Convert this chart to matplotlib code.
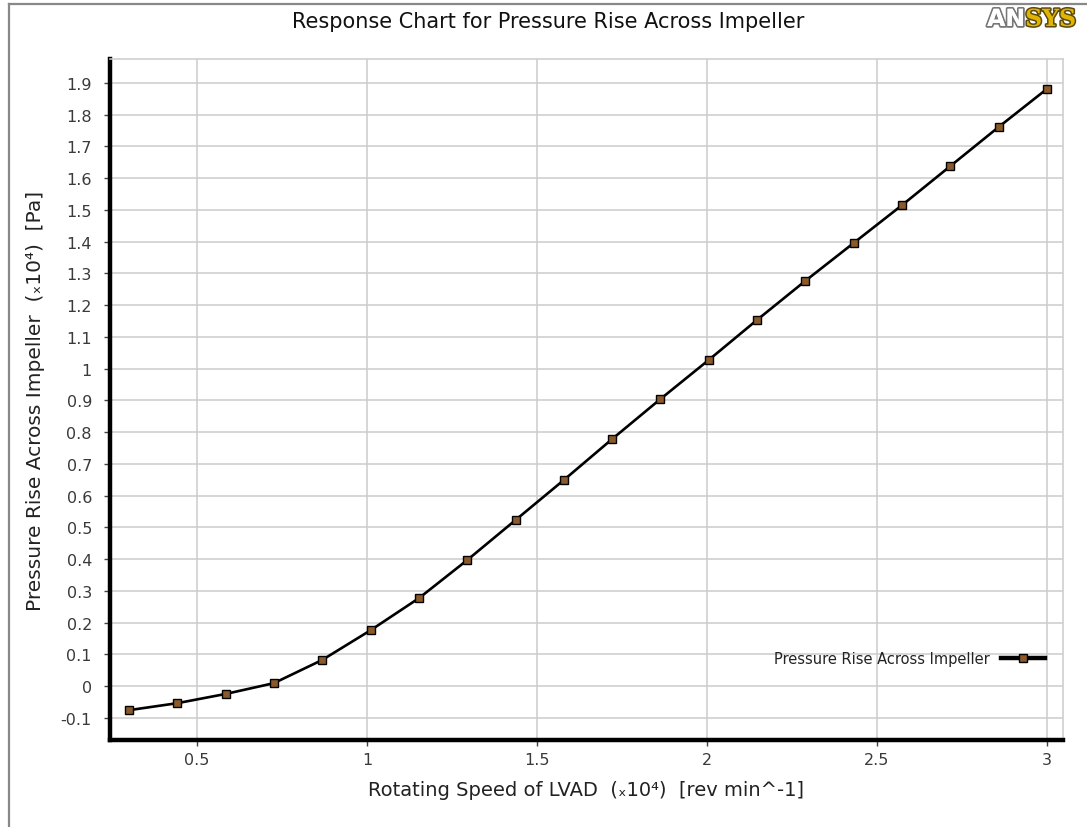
import matplotlib
matplotlib.use("Agg")
import matplotlib.pyplot as plt
from matplotlib.lines import Line2D
import matplotlib.patheffects as pe

# Rotating speed (x10^4 rev/min) and pressure rise (x10^4 Pa)
speed = [0.3, 0.442, 0.584, 0.726, 0.868, 1.011, 1.153, 1.295, 1.437, 1.579,
         1.721, 1.863, 2.005, 2.147, 2.289, 2.432, 2.574, 2.716, 2.858, 3.0]
pressure = [-0.076, -0.054, -0.025, 0.009, 0.082, 0.176, 0.277, 0.397, 0.523, 0.649,
            0.778, 0.904, 1.027, 1.153, 1.276, 1.396, 1.515, 1.638, 1.761, 1.881]

x_ticks = [0.5, 1, 1.5, 2, 2.5, 3]
x_tick_labels = ["0.5", "1", "1.5", "2", "2.5", "3"]
y_ticks = [round(-0.1 + 0.1 * i, 1) for i in range(21)]
y_tick_labels = ["0" if v == 0 else ("1" if v == 1 else f"{v:g}") for v in y_ticks]

title = "Response Chart for Pressure Rise Across Impeller"
series_name = "Pressure Rise Across Impeller"
x_label = "Rotating Speed of LVAD  (\u209310\u2074)  [rev min^-1]"
y_label = "Pressure Rise Across Impeller  (\u209310\u2074)  [Pa]"

W, H = 1087, 828
fig = plt.figure(figsize=(W / 100, H / 100), dpi=100)
fig.patch.set_facecolor("white")

ax = fig.add_axes([110 / W, 1 - 741 / H, (1063 - 110) / W, (741 - 60) / H])
ax.set_xlim(0.244, 3.047)
ax.set_ylim(-0.170, 1.975)

grid_c = "#cccccc"
ax.set_xticks(x_ticks)
ax.set_xticklabels(x_tick_labels)
ax.set_yticks(y_ticks)
ax.set_yticklabels(y_tick_labels)
ax.grid(True, color=grid_c, linewidth=1.1)
ax.set_axisbelow(True)

for side in ("left", "bottom"):
    ax.spines[side].set_linewidth(3.2)
    ax.spines[side].set_color("black")
for side in ("top", "right"):
    ax.spines[side].set_linewidth(1.1)
    ax.spines[side].set_color(grid_c)

ax.tick_params(axis="both", which="major", labelsize=11.5, labelcolor="#3a3a3a",
               color="#444444", length=4, width=1, direction="out")
ax.tick_params(axis="y", pad=9)
ax.tick_params(axis="x", pad=5)

marker_kw = dict(marker="s", markersize=5.5, markerfacecolor="#8b5a2b",
                 markeredgecolor="black", markeredgewidth=1.0)
ax.plot(speed, pressure, color="black", linewidth=1.9, zorder=3, **marker_kw)

handle = Line2D([], [], color="black", linewidth=3.2, **marker_kw)
ax.legend([handle], [series_name], loc="center right",
          bbox_to_anchor=(0.992, 0.119), frameon=False, markerfirst=False,
          handlelength=3.0, handletextpad=0.8, fontsize=10.5,
          labelcolor="#222222", borderpad=0.2)

fig.text(548 / W, 1 - 22 / H, title, ha="center", va="center",
         fontsize=15, color="#111111")
ax.set_xlabel(x_label, fontsize=14, color="#222222", labelpad=9)
ax.set_ylabel(y_label, fontsize=14.5, color="#222222", labelpad=11)

# Outer frame (top and left edges)
fig.add_artist(Line2D([8.5 / W, 8.5 / W], [0, 1 - 4.5 / H],
                      transform=fig.transFigure, color="#888888", linewidth=1.6))
fig.add_artist(Line2D([8.5 / W, 1], [1 - 4.5 / H, 1 - 4.5 / H],
                      transform=fig.transFigure, color="#888888", linewidth=1.6))

# ANSYS logo
logo_y = 1 - 20 / H
sys_t = fig.text(1076 / W, logo_y, "SYS", ha="right", va="center",
                 fontsize=17, fontweight="bold", family="DejaVu Serif",
                 color="#e0b400")
sys_t.set_path_effects([pe.withStroke(linewidth=2.2, foreground="#5a4a10")])
fig.canvas.draw()
bb = sys_t.get_window_extent()
an_t = fig.text(bb.x0 / W, logo_y, "AN", ha="right", va="center",
                fontsize=17, fontweight="bold", family="DejaVu Sans",
                color="white")
an_t.set_path_effects([pe.withStroke(linewidth=2.6, foreground="#777777"),
                       pe.Normal()])

fig.savefig("out.png", dpi=100)
